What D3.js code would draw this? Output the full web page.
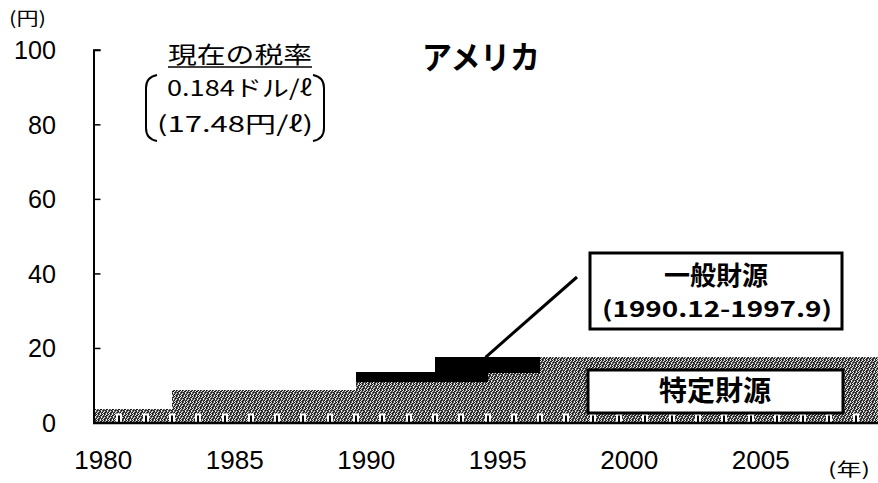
<!DOCTYPE html>
<html>
<head>
<meta charset="utf-8">
<script src="https://cdn.jsdelivr.net/npm/d3@7"></script>
<style>
  body { margin: 0; background: #fff; }
  svg { display: block; }
  .jp { font-family: "Noto Sans CJK JP", sans-serif; }
  .num { font-family: "Liberation Sans", Arial, sans-serif; }
</style>
</head>
<body>
<div id="chart"></div>
<script>
// 年ごとの税率（円/ℓ）
const years = d3.range(1980, 2010)
const tokutei = [3.7, 3.7, 3.7, 8.6, 8.6, 8.6, 8.6, 8.6, 8.6, 8.6,
                 11.0, 11.0, 11.0, 11.0, 11.0, 13.4, 13.4, 17.5, 17.5, 17.5,
                 17.5, 17.5, 17.5, 17.5, 17.5, 17.5, 17.5, 17.5, 17.5, 17.5]
const ippan = [0, 0, 0, 0, 0, 0, 0, 0, 0, 0,
               2.5, 2.5, 2.5, 6.5, 6.5, 4.1, 4.1, 0, 0, 0,
               0, 0, 0, 0, 0, 0, 0, 0, 0, 0]
const yTicks = [0, 20, 40, 60, 80, 100]
const xLabels = [1980, 1985, 1990, 1995, 2000, 2005]

const width = 878, height = 483

const svg = d3.select('#chart')
  .append('svg')
  .attr('width', width)
  .attr('height', height)

// 網かけパターン
const defs = svg.append('defs')
const pat = defs.append('pattern')
  .attr('id', 'ami')
  .attr('patternUnits', 'userSpaceOnUse')
  .attr('width', 6)
  .attr('height', 6)
pat.append('rect').attr('width', 6).attr('height', 6).attr('fill', '#5e5e5e')
const darkPix = [[0,0],[2,0],[5,1],[1,2],[3,2],[4,3],[0,4],[2,5],[5,5],[3,4],[4,1]]
const lightPix = [[1,0],[4,0],[0,1],[3,1],[2,3],[5,3],[1,4],[4,5],[0,5],[5,2]]
darkPix.forEach(p => pat.append('rect').attr('x', p[0]).attr('y', p[1]).attr('width', 1).attr('height', 1).attr('fill', '#141414'))
lightPix.forEach(p => pat.append('rect').attr('x', p[0]).attr('y', p[1]).attr('width', 1).attr('height', 1).attr('fill', '#e8e8e8'))

const x = d3.scaleBand()
  .domain(years)
  .range([93, 93 + 30 * 26.3])
  .padding(0)

const y = d3.scaleLinear()
  .domain([0, 100])
  .range([422.5, 49.8])

const data = years.map((yr, i) => ({ year: yr, tokutei: tokutei[i], ippan: ippan[i] }))

// 階段状の面（年ごとに一定）
const xEnd = x.range()[1]
const withEnd = data.concat([{ year: null, tokutei: tokutei[tokutei.length - 1], ippan: 0 }])
const areaX = (d) => d.year === null ? xEnd : x(d.year)
const area = d3.area()
  .curve(d3.curveStepAfter)
  .x(areaX)

// 一般財源（特定財源の上に重ねる）
svg.append('path')
  .datum(withEnd)
  .attr('d', area.y0(d => y(d.tokutei)).y1(d => y(d.tokutei + d.ippan)))
  .attr('fill', '#000')
  .attr('shape-rendering', 'crispEdges')

// 特定財源
svg.append('path')
  .datum(withEnd)
  .attr('d', area.y0(y(0)).y1(d => y(d.tokutei)))
  .attr('fill', 'url(#ami)')
  .attr('shape-rendering', 'crispEdges')

// x軸の目盛り（年の区切り）
const notch = svg.append('g')
  .selectAll('g')
  .data(years.slice(1))
  .join('g')
  .attr('transform', d => `translate(${Math.round(x(d))},0)`)
notch.append('rect')
  .attr('x', -3).attr('y', y(0) - 9).attr('width', 6).attr('height', 9)
  .attr('fill', '#fff')
notch.append('rect')
  .attr('x', -1).attr('y', y(0) - 7).attr('width', 2).attr('height', 7)
  .attr('fill', '#000')

// 軸線
svg.append('line')
  .attr('x1', 93).attr('x2', width)
  .attr('y1', y(0) + 0.5).attr('y2', y(0) + 0.5)
  .attr('stroke', '#000').attr('stroke-width', 2.5)

const yAxis = svg.append('g')
  .attr('transform', 'translate(93.5,0)')
  .call(d3.axisRight(y).tickValues(yTicks).tickSize(7).tickFormat(''))
yAxis.select('.domain').attr('stroke-width', 2)
yAxis.selectAll('.tick line').attr('stroke-width', 1.5)

// y軸ラベル
svg.append('g')
  .selectAll('text')
  .data(yTicks)
  .join('text')
  .attr('class', 'num')
  .attr('x', 56)
  .attr('y', d => y(d) + 9.5)
  .attr('text-anchor', 'end')
  .attr('font-size', 26)
  .attr('textLength', d => String(d).length * 14)
  .attr('lengthAdjust', 'spacingAndGlyphs')
  .text(d => d)

// x軸ラベル
svg.append('g')
  .selectAll('text')
  .data(xLabels)
  .join('text')
  .attr('class', 'num')
  .attr('x', d => x(d) + x.bandwidth() / 2 - 3)
  .attr('y', 469)
  .attr('text-anchor', 'middle')
  .attr('font-size', 26)
  .attr('textLength', 58)
  .attr('lengthAdjust', 'spacingAndGlyphs')
  .text(d => d)

svg.append('text').attr('class', 'jp')
  .attr('x', 9).attr('y', 25)
  .attr('font-size', 18)
  .attr('textLength', 37).attr('lengthAdjust', 'spacingAndGlyphs')
  .text('(円)')

svg.append('text').attr('class', 'jp')
  .attr('x', 828).attr('y', 476)
  .attr('font-size', 18)
  .attr('textLength', 42).attr('lengthAdjust', 'spacingAndGlyphs')
  .text('(年)')

// タイトル
svg.append('text').attr('class', 'jp')
  .attr('x', 422).attr('y', 69)
  .attr('font-size', 32).attr('font-weight', 'bold')
  .attr('textLength', 118).attr('lengthAdjust', 'spacingAndGlyphs')
  .text('アメリカ')

// 現在の税率
svg.append('text').attr('class', 'jp')
  .attr('x', 168).attr('y', 63)
  .attr('font-size', 23)
  .attr('textLength', 144).attr('lengthAdjust', 'spacingAndGlyphs')
  .text('現在の税率')
svg.append('line')
  .attr('x1', 168).attr('x2', 312).attr('y1', 67).attr('y2', 67)
  .attr('stroke', '#000').attr('stroke-width', 1.5)

svg.append('text').attr('class', 'jp')
  .attr('x', 167).attr('y', 96)
  .attr('font-size', 22)
  .attr('textLength', 145).attr('lengthAdjust', 'spacingAndGlyphs')
  .text('0.184ドル/ℓ')
svg.append('text').attr('class', 'jp')
  .attr('x', 157).attr('y', 132)
  .attr('font-size', 22)
  .attr('textLength', 156).attr('lengthAdjust', 'spacingAndGlyphs')
  .text('(17.48円/ℓ)')

// 大かっこ
svg.append('path')
  .attr('d', 'M157,75 Q146,77 146,88 L146,128 Q146,139 157,141')
  .attr('fill', 'none').attr('stroke', '#000').attr('stroke-width', 2)
svg.append('path')
  .attr('d', 'M313,75 Q324,77 324,88 L324,128 Q324,139 313,141')
  .attr('fill', 'none').attr('stroke', '#000').attr('stroke-width', 2)

// 一般財源の注記
svg.append('line')
  .attr('x1', 577).attr('y1', 277)
  .attr('x2', x(1995) - 2).attr('y2', y(tokutei[13] + ippan[13]))
  .attr('stroke', '#000').attr('stroke-width', 3)

svg.append('rect')
  .attr('x', 590).attr('y', 253).attr('width', 252).attr('height', 76)
  .attr('fill', '#fff').attr('stroke', '#000').attr('stroke-width', 3)
svg.append('text').attr('class', 'jp')
  .attr('x', 716).attr('y', 285)
  .attr('text-anchor', 'middle')
  .attr('font-size', 26).attr('font-weight', 'bold')
  .text('一般財源')
svg.append('text').attr('class', 'jp')
  .attr('x', 602).attr('y', 317)
  .attr('font-size', 22).attr('font-weight', 'bold')
  .attr('textLength', 230).attr('lengthAdjust', 'spacingAndGlyphs')
  .text('(1990.12-1997.9)')

// 特定財源の注記
svg.append('rect')
  .attr('x', 588).attr('y', 370).attr('width', 255).attr('height', 43)
  .attr('fill', '#fff').attr('stroke', '#000').attr('stroke-width', 3)
svg.append('text').attr('class', 'jp')
  .attr('x', 715).attr('y', 401)
  .attr('text-anchor', 'middle')
  .attr('font-size', 28).attr('font-weight', 'bold')
  .text('特定財源')
</script>
</body>
</html>
